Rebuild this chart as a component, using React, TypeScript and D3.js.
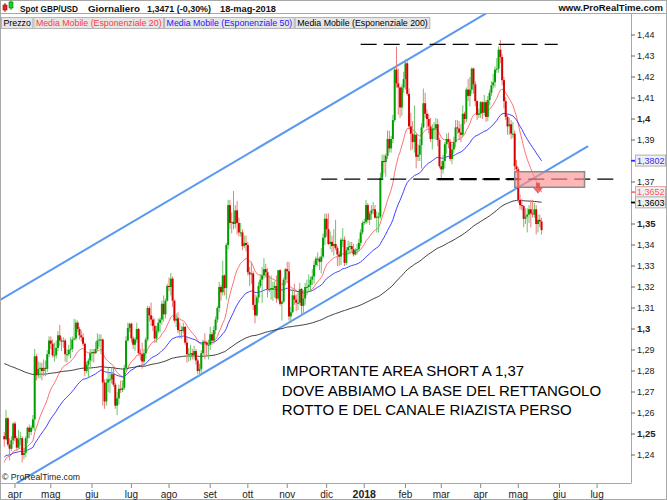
import React, { useEffect, useRef } from "react";
import * as d3 from "d3";

// ---------- DATA (daily GBP/USD candles: [open, high, low, close]) ----------
const FIRST_DATE = "2017-03-24";
const BASE_DATE = "2017-04-03";

const mar2017 = [
  [1.2490, 1.2510, 1.2440, 1.2475], [1.2475, 1.2615, 1.2470, 1.2575], [1.2575, 1.2580, 1.2440, 1.2450],
  [1.2450, 1.2480, 1.2375, 1.2430], [1.2430, 1.2490, 1.2420, 1.2470], [1.2470, 1.2555, 1.2450, 1.2550],
];
const apr2017 = [
  [1.2550, 1.2560, 1.2465, 1.2480], [1.2480, 1.2490, 1.2420, 1.2435], [1.2435, 1.2520, 1.2430, 1.2475],
  [1.2475, 1.2510, 1.2445, 1.2480], [1.2480, 1.2490, 1.2365, 1.2400], [1.2400, 1.2430, 1.2380, 1.2410],
  [1.2410, 1.2490, 1.2390, 1.2480], [1.2480, 1.2535, 1.2455, 1.2530], [1.2530, 1.2545, 1.2480, 1.2510],
  [1.2510, 1.2540, 1.2495, 1.2530], [1.2530, 1.2590, 1.2520, 1.2570], [1.2570, 1.2905, 1.2515, 1.2870],
  [1.2870, 1.2880, 1.2755, 1.2780], [1.2780, 1.2845, 1.2765, 1.2810], [1.2810, 1.2840, 1.2765, 1.2815],
  [1.2815, 1.2840, 1.2755, 1.2800], [1.2800, 1.2855, 1.2775, 1.2815], [1.2815, 1.2850, 1.2775, 1.2810],
  [1.2810, 1.2900, 1.2795, 1.2880], [1.2880, 1.2965, 1.2865, 1.2945],
];
const may2017 = [
  [1.2945, 1.2965, 1.2905, 1.2930], [1.2930, 1.2950, 1.2865, 1.2875], [1.2875, 1.2935, 1.2845, 1.2875],
  [1.2875, 1.2945, 1.2860, 1.2910], [1.2910, 1.2990, 1.2895, 1.2970], [1.2970, 1.3020, 1.2920, 1.2945],
  [1.2945, 1.2960, 1.2895, 1.2940], [1.2940, 1.2960, 1.2910, 1.2945], [1.2945, 1.2955, 1.2845, 1.2880],
  [1.2880, 1.2905, 1.2840, 1.2880], [1.2880, 1.2925, 1.2870, 1.2900], [1.2900, 1.2960, 1.2860, 1.2905],
  [1.2905, 1.2965, 1.2890, 1.2950], [1.2950, 1.3048, 1.2945, 1.2955], [1.2955, 1.3045, 1.2945, 1.3030],
  [1.3030, 1.3040, 1.2985, 1.3000], [1.3000, 1.3010, 1.2950, 1.2970], [1.2970, 1.2995, 1.2940, 1.2960],
  [1.2960, 1.2980, 1.2920, 1.2930], [1.2930, 1.2935, 1.2775, 1.2800], [1.2800, 1.2845, 1.2790, 1.2830],
  [1.2830, 1.2860, 1.2770, 1.2850], [1.2850, 1.2905, 1.2810, 1.2885],
];
const jun2017 = [
  [1.2885, 1.2905, 1.2845, 1.2890], [1.2890, 1.2905, 1.2840, 1.2885], [1.2885, 1.2940, 1.2880, 1.2905],
  [1.2905, 1.2980, 1.2895, 1.2945], [1.2945, 1.2975, 1.2915, 1.2950], [1.2950, 1.2975, 1.2880, 1.2950],
  [1.2950, 1.2955, 1.2635, 1.2745], [1.2745, 1.2760, 1.2620, 1.2655], [1.2655, 1.2765, 1.2635, 1.2745],
  [1.2745, 1.2815, 1.2700, 1.2760], [1.2760, 1.2790, 1.2695, 1.2760], [1.2760, 1.2815, 1.2740, 1.2785],
  [1.2785, 1.2815, 1.2725, 1.2735], [1.2735, 1.2745, 1.2620, 1.2635], [1.2635, 1.2700, 1.2590, 1.2670],
  [1.2670, 1.2735, 1.2640, 1.2715], [1.2715, 1.2755, 1.2695, 1.2710], [1.2710, 1.2755, 1.2700, 1.2720],
  [1.2720, 1.2830, 1.2710, 1.2815], [1.2815, 1.2965, 1.2800, 1.2945], [1.2945, 1.3030, 1.2940, 1.3005],
  [1.3005, 1.3030, 1.2985, 1.3025],
];
const jul2017 = [
  [1.3025, 1.3030, 1.2935, 1.2955], [1.2955, 1.2965, 1.2905, 1.2925], [1.2925, 1.2960, 1.2895, 1.2950],
  [1.2950, 1.3030, 1.2935, 1.3000], [1.3000, 1.3005, 1.2875, 1.2885], [1.2885, 1.2905, 1.2850, 1.2880],
  [1.2880, 1.2935, 1.2811, 1.2845], [1.2845, 1.2905, 1.2825, 1.2885], [1.2885, 1.2960, 1.2860, 1.2950],
  [1.2950, 1.3110, 1.2940, 1.3100], [1.3100, 1.3110, 1.3035, 1.3065], [1.3065, 1.3126, 1.3015, 1.3045],
  [1.3045, 1.3060, 1.2990, 1.3015], [1.3015, 1.3050, 1.2935, 1.2955], [1.2955, 1.3015, 1.2935, 1.2990],
  [1.2990, 1.3050, 1.2980, 1.3030], [1.3030, 1.3055, 1.2985, 1.3045], [1.3045, 1.3135, 1.3020, 1.3120],
  [1.3120, 1.3160, 1.3035, 1.3070], [1.3070, 1.3145, 1.3050, 1.3135], [1.3135, 1.3215, 1.3130, 1.3205],
];
const aug2017 = [
  [1.3205, 1.3245, 1.3180, 1.3200], [1.3200, 1.3267, 1.3160, 1.3240], [1.3240, 1.3250, 1.3105, 1.3135],
  [1.3135, 1.3140, 1.3030, 1.3040], [1.3040, 1.3075, 1.3010, 1.3050], [1.3050, 1.3080, 1.2980, 1.2995],
  [1.2995, 1.3030, 1.2955, 1.2995], [1.2995, 1.3015, 1.2955, 1.2990], [1.2990, 1.3030, 1.2975, 1.3010],
  [1.3010, 1.3015, 1.2925, 1.2935], [1.2935, 1.2960, 1.2840, 1.2880], [1.2880, 1.2910, 1.2845, 1.2880],
  [1.2880, 1.2925, 1.2850, 1.2885], [1.2885, 1.2905, 1.2855, 1.2875], [1.2875, 1.2920, 1.2855, 1.2895],
  [1.2895, 1.2905, 1.2830, 1.2850], [1.2850, 1.2860, 1.2785, 1.2800], [1.2800, 1.2835, 1.2774, 1.2810],
  [1.2810, 1.2900, 1.2785, 1.2885], [1.2885, 1.2950, 1.2875, 1.2940], [1.2940, 1.2980, 1.2855, 1.2935],
  [1.2935, 1.2945, 1.2875, 1.2925], [1.2925, 1.2950, 1.2855, 1.2925],
];
const sep2017 = [
  [1.2925, 1.3010, 1.2900, 1.2975], [1.2975, 1.2985, 1.2925, 1.2945], [1.2945, 1.3015, 1.2930, 1.2995],
  [1.2995, 1.3060, 1.2975, 1.3045], [1.3045, 1.3110, 1.3030, 1.3100], [1.3100, 1.3225, 1.3080, 1.3200],
  [1.3200, 1.3210, 1.3135, 1.3175], [1.3175, 1.3325, 1.3160, 1.3255], [1.3255, 1.3260, 1.3160, 1.3195],
  [1.3195, 1.3410, 1.3140, 1.3400], [1.3400, 1.3615, 1.3380, 1.3590], [1.3590, 1.3615, 1.3475, 1.3505],
  [1.3505, 1.3555, 1.3455, 1.3510], [1.3510, 1.3657, 1.3475, 1.3500], [1.3500, 1.3590, 1.3480, 1.3565],
  [1.3565, 1.3610, 1.3450, 1.3505], [1.3505, 1.3530, 1.3440, 1.3460], [1.3460, 1.3505, 1.3440, 1.3460],
  [1.3460, 1.3475, 1.3375, 1.3395], [1.3395, 1.3445, 1.3385, 1.3410], [1.3410, 1.3445, 1.3370, 1.3400],
];
const oct2017 = [
  [1.3400, 1.3415, 1.3255, 1.3270], [1.3270, 1.3295, 1.3205, 1.3260], [1.3260, 1.3320, 1.3215, 1.3265],
  [1.3265, 1.3275, 1.3090, 1.3115], [1.3115, 1.3165, 1.3027, 1.3065], [1.3065, 1.3160, 1.3060, 1.3150],
  [1.3150, 1.3225, 1.3125, 1.3205], [1.3205, 1.3260, 1.3195, 1.3235], [1.3235, 1.3295, 1.3125, 1.3255],
  [1.3255, 1.3337, 1.3240, 1.3285], [1.3285, 1.3310, 1.3245, 1.3270], [1.3270, 1.3290, 1.3150, 1.3190],
  [1.3190, 1.3255, 1.3175, 1.3190], [1.3190, 1.3255, 1.3140, 1.3195], [1.3195, 1.3225, 1.3135, 1.3195],
  [1.3195, 1.3230, 1.3150, 1.3205], [1.3205, 1.3255, 1.3125, 1.3145], [1.3145, 1.3280, 1.3135, 1.3280],
  [1.3280, 1.3285, 1.3110, 1.3120], [1.3120, 1.3135, 1.3040, 1.3130], [1.3130, 1.3245, 1.3125, 1.3235],
  [1.3235, 1.3290, 1.3210, 1.3285],
];
const nov2017 = [
  [1.3285, 1.3320, 1.3225, 1.3275], [1.3275, 1.3320, 1.3040, 1.3060], [1.3060, 1.3105, 1.3030, 1.3080],
  [1.3080, 1.3190, 1.3075, 1.3160], [1.3160, 1.3215, 1.3115, 1.3140], [1.3140, 1.3165, 1.3085, 1.3125],
  [1.3125, 1.3175, 1.3090, 1.3125], [1.3125, 1.3220, 1.3115, 1.3190], [1.3190, 1.3195, 1.3065, 1.3110],
  [1.3110, 1.3185, 1.3070, 1.3145], [1.3145, 1.3220, 1.3115, 1.3200], [1.3200, 1.3235, 1.3160, 1.3200],
  [1.3200, 1.3260, 1.3175, 1.3210], [1.3210, 1.3250, 1.3180, 1.3235], [1.3235, 1.3285, 1.3210, 1.3250],
  [1.3250, 1.3325, 1.3215, 1.3305], [1.3305, 1.3345, 1.3295, 1.3335], [1.3335, 1.3365, 1.3300, 1.3335],
  [1.3335, 1.3345, 1.3280, 1.3320], [1.3320, 1.3385, 1.3265, 1.3345], [1.3345, 1.3455, 1.3335, 1.3435],
  [1.3435, 1.3550, 1.3400, 1.3525],
];
const dec2017 = [
  [1.3525, 1.3550, 1.3440, 1.3475], [1.3475, 1.3550, 1.3400, 1.3405], [1.3405, 1.3465, 1.3380, 1.3415],
  [1.3415, 1.3445, 1.3365, 1.3395], [1.3395, 1.3475, 1.3350, 1.3405], [1.3405, 1.3520, 1.3375, 1.3385],
  [1.3385, 1.3395, 1.3300, 1.3355], [1.3355, 1.3370, 1.3300, 1.3345], [1.3345, 1.3435, 1.3305, 1.3425],
  [1.3425, 1.3480, 1.3390, 1.3425], [1.3425, 1.3440, 1.3300, 1.3315], [1.3315, 1.3390, 1.3305, 1.3375],
  [1.3375, 1.3420, 1.3355, 1.3390], [1.3390, 1.3415, 1.3355, 1.3395], [1.3395, 1.3415, 1.3365, 1.3380],
  [1.3380, 1.3405, 1.3345, 1.3355], [1.3355, 1.3385, 1.3350, 1.3375], [1.3375, 1.3405, 1.3355, 1.3380],
  [1.3380, 1.3430, 1.3370, 1.3410], [1.3410, 1.3475, 1.3395, 1.3460], [1.3460, 1.3515, 1.3450, 1.3505],
];
const jan2018 = [
  [1.3505, 1.3525, 1.3495, 1.3510], [1.3510, 1.3615, 1.3500, 1.3590], [1.3590, 1.3600, 1.3505, 1.3520],
  [1.3520, 1.3560, 1.3495, 1.3550], [1.3550, 1.3590, 1.3520, 1.3565], [1.3565, 1.3605, 1.3545, 1.3570],
  [1.3570, 1.3590, 1.3525, 1.3530], [1.3530, 1.3560, 1.3460, 1.3535], [1.3535, 1.3555, 1.3460, 1.3535],
  [1.3535, 1.3745, 1.3525, 1.3720], [1.3720, 1.3830, 1.3710, 1.3800], [1.3800, 1.3830, 1.3740, 1.3795],
  [1.3795, 1.3835, 1.3725, 1.3825], [1.3825, 1.3945, 1.3810, 1.3905], [1.3905, 1.3945, 1.3840, 1.3860],
  [1.3860, 1.3920, 1.3840, 1.3905], [1.3905, 1.4020, 1.3885, 1.3995], [1.3995, 1.4245, 1.3985, 1.4235],
  [1.4235, 1.4345, 1.4150, 1.4170], [1.4170, 1.4240, 1.4020, 1.4150], [1.4150, 1.4155, 1.4005, 1.4055],
  [1.4055, 1.4165, 1.4015, 1.4150], [1.4150, 1.4225, 1.4125, 1.4190],
];
const feb2018 = [
  [1.4190, 1.4285, 1.4140, 1.4265], [1.4265, 1.4275, 1.4110, 1.4120], [1.4120, 1.4145, 1.3950, 1.3965],
  [1.3965, 1.4030, 1.3850, 1.3930], [1.3930, 1.3990, 1.3855, 1.3890], [1.3890, 1.4065, 1.3840, 1.3925],
  [1.3925, 1.3930, 1.3765, 1.3820], [1.3820, 1.3880, 1.3800, 1.3830], [1.3830, 1.3905, 1.3800, 1.3875],
  [1.3875, 1.3980, 1.3765, 1.3960], [1.3960, 1.4145, 1.3955, 1.4075], [1.4075, 1.4125, 1.4005, 1.4025],
  [1.4025, 1.4045, 1.3955, 1.4000], [1.4000, 1.4025, 1.3930, 1.3965], [1.3965, 1.4005, 1.3890, 1.3905],
  [1.3905, 1.3975, 1.3855, 1.3955], [1.3955, 1.3985, 1.3905, 1.3955], [1.3955, 1.4005, 1.3900, 1.3975],
  [1.3975, 1.4000, 1.3870, 1.3900], [1.3900, 1.3910, 1.3765, 1.3775],
];
const mar2018 = [
  [1.3775, 1.3800, 1.3712, 1.3760], [1.3760, 1.3830, 1.3740, 1.3800], [1.3800, 1.3890, 1.3765, 1.3880],
  [1.3880, 1.3930, 1.3835, 1.3905], [1.3905, 1.3935, 1.3860, 1.3890], [1.3890, 1.3905, 1.3800, 1.3810],
  [1.3810, 1.3880, 1.3785, 1.3855], [1.3855, 1.3915, 1.3835, 1.3890], [1.3890, 1.3995, 1.3865, 1.3960],
  [1.3960, 1.3995, 1.3930, 1.3955], [1.3955, 1.3990, 1.3900, 1.3935], [1.3935, 1.3975, 1.3890, 1.3925],
  [1.3925, 1.4065, 1.3915, 1.4025], [1.4025, 1.4035, 1.3975, 1.4000], [1.4000, 1.4150, 1.3985, 1.4140],
  [1.4140, 1.4190, 1.4085, 1.4110], [1.4110, 1.4200, 1.4060, 1.4140], [1.4140, 1.4245, 1.4120, 1.4240],
  [1.4240, 1.4245, 1.4120, 1.4165], [1.4165, 1.4180, 1.4060, 1.4085], [1.4085, 1.4090, 1.3995, 1.4020],
  [1.4020, 1.4050, 1.4005, 1.4025],
];
const apr2018 = [
  [1.4025, 1.4085, 1.4005, 1.4080], [1.4080, 1.4085, 1.4000, 1.4030], [1.4030, 1.4115, 1.4015, 1.4080],
  [1.4080, 1.4090, 1.3985, 1.4010], [1.4010, 1.4110, 1.3990, 1.4090], [1.4090, 1.4140, 1.4065, 1.4125],
  [1.4125, 1.4180, 1.4110, 1.4160], [1.4160, 1.4215, 1.4145, 1.4175], [1.4175, 1.4250, 1.4150, 1.4235],
  [1.4235, 1.4290, 1.4220, 1.4240], [1.4240, 1.4345, 1.4220, 1.4330], [1.4330, 1.4377, 1.4265, 1.4295],
  [1.4295, 1.4310, 1.4160, 1.4185], [1.4185, 1.4200, 1.4050, 1.4085], [1.4085, 1.4105, 1.3995, 1.4010],
  [1.4010, 1.4025, 1.3925, 1.3965], [1.3965, 1.4005, 1.3925, 1.3975], [1.3975, 1.3995, 1.3905, 1.3930],
  [1.3930, 1.3985, 1.3910, 1.3930], [1.3930, 1.3945, 1.3755, 1.3775], [1.3775, 1.3805, 1.3745, 1.3760],
];
const may2018 = [
  [1.3760, 1.3770, 1.3600, 1.3615], [1.3615, 1.3640, 1.3570, 1.3590], [1.3590, 1.3620, 1.3565, 1.3585],
  [1.3585, 1.3590, 1.3485, 1.3525], [1.3525, 1.3575, 1.3500, 1.3535], [1.3535, 1.3575, 1.3460, 1.3545],
  [1.3545, 1.3590, 1.3505, 1.3570], [1.3570, 1.3615, 1.3485, 1.3550], [1.3550, 1.3615, 1.3530, 1.3545],
  [1.3545, 1.3600, 1.3530, 1.3570], [1.3570, 1.3590, 1.3450, 1.3500], [1.3500, 1.3545, 1.3460, 1.3520],
  [1.3520, 1.3545, 1.3485, 1.3512], [1.3512, 1.3530, 1.3450, 1.3471],
];
const monthBlocks = [mar2017, apr2017, may2017, jun2017, jul2017, aug2017, sep2017, oct2017,
  nov2017, dec2017, jan2018, feb2018, mar2018, apr2018, may2018];

// EMA settings and starting values (value of each average on the first bar)
const emaPeriods = [20, 50, 200];
const emaStart = [1.2365, 1.2390, 1.2835];
const emaColors = ["#ff5a5a", "#2d2dff", "#2a2a2a"];
const emaLastLabels = ["1,3652", "1,3802", "1,3603"];
const emaLastValues = [1.3652, 1.3802, 1.3603];

// axis tick values
const yTickValues = [1.24, 1.25, 1.26, 1.27, 1.28, 1.29, 1.3, 1.31, 1.32, 1.33, 1.34, 1.35, 1.36,
  1.37, 1.38, 1.39, 1.4, 1.41, 1.42, 1.43, 1.44];
const monthNames = ["2018", "feb", "mar", "apr", "mag", "giu", "lug", "ago", "set", "ott", "nov", "dic"];
const TICK_END_DATE = "2018-07-31";

// drawn studies
const channelLower = [{ date: "2017-04-04", price: 1.2266 }, { date: "2018-06-25", price: 1.3871 }];
const channelUpper = [{ date: "2017-03-22", price: 1.3140 }, { date: "2018-04-17", price: 1.4543 }];
const levelTop = { from: "2017-12-28", to: "2018-05-31", price: 1.4355 };
const levelMid = { from: "2017-11-28", to: "2018-07-18", price: 1.3714 };
const levelMidBold = { from: "2018-02-27", to: "2018-05-01", price: 1.3714 };
const shortZone = { from: "2018-04-27", to: "2018-06-21", top: 1.3749, bottom: 1.3675 };
const arrowMark = { date: "2018-05-16", top: 1.3697, bottom: 1.3644 };

const headerItems = ["Spot GBP/USD", "Giornaliero", "1,3471 (-0,30%)", "18-mag-2018"];
const legendItems = [
  { label: "Prezzo", color: "#000" },
  { label: "Media Mobile (Esponenziale 20)", color: "#ff3b3b" },
  { label: "Media Mobile (Esponenziale 50)", color: "#2020ff" },
  { label: "Media Mobile (Esponenziale 200)", color: "#000" },
];
const noteLines = [
  "IMPORTANTE AREA SHORT A 1,37",
  "DOVE ABBIAMO LA BASE DEL RETTANGOLO",
  "ROTTO E DEL CANALE RIAZISTA PERSO",
];
const noteAnchor = { date: "2017-10-27", price: 1.2774 };

// ---------- helpers ----------
const DAY = 86400000;
function parseDate(s: string) {
  const [y, m, d] = s.split("-").map(Number);
  return new Date(Date.UTC(y, m - 1, d));
}
function isWeekday(d: Date) {
  const w = d.getUTCDay();
  return w !== 0 && w !== 6;
}
function tradingIndex(s: string) {
  let d = parseDate(BASE_DATE);
  const t = parseDate(s);
  let idx = 0;
  if (t >= d) {
    while (d < t) { d = new Date(d.getTime() + DAY); if (isWeekday(d)) idx++; }
  } else {
    while (d > t) { if (isWeekday(d)) idx--; d = new Date(d.getTime() - DAY); }
  }
  return idx;
}

const W = 667, H = 500;
const PL = 0, PR = 631, PT = 13, PB = 483;

export default function App() {
  const ref = useRef<SVGSVGElement | null>(null);

  useEffect(() => {
    const svg = d3.select(ref.current);
    svg.selectAll("*").remove();
    const font = "'Liberation Sans', Arial, sans-serif";

    const candles = monthBlocks.flat().map((r, k) => ({
      i: tradingIndex(FIRST_DATE) + k, o: r[0], h: r[1], l: r[2], c: r[3],
    }));

    const x = d3.scaleLinear().domain([-8.375, 343.94]).range([PL, PR]);
    const y = d3.scaleLinear().domain([1.22667, 1.45048]).range([PB, PT]);

    svg.append("rect").attr("width", W).attr("height", H).attr("fill", "#fff");

    const defs = svg.append("defs");
    defs.append("clipPath").attr("id", "plotclip").append("rect")
      .attr("x", PL).attr("y", PT).attr("width", PR - PL).attr("height", PB - PT);

    const plot = svg.append("g").attr("clip-path", "url(#plotclip)");

    // channel lines
    [channelLower, channelUpper].forEach((ch) => {
      plot.append("line")
        .attr("x1", x(tradingIndex(ch[0].date))).attr("y1", y(ch[0].price))
        .attr("x2", x(tradingIndex(ch[1].date))).attr("y2", y(ch[1].price))
        .attr("stroke", "#5a98f2").attr("stroke-width", 2);
    });

    // EMAs
    emaPeriods.forEach((p, k) => {
      const a = 2 / (p + 1);
      let e = emaStart[k];
      const pts = candles.map((cd, j) => {
        if (j > 0) e = e + a * (cd.c - e);
        return [x(cd.i), y(e)] as [number, number];
      });
      plot.append("path").attr("d", d3.line()(pts)!).attr("fill", "none")
        .attr("stroke", emaColors[k]).attr("stroke-width", 1)
        .attr("stroke-opacity", k === 0 ? 0.85 : 0.9);
    });

    // candles
    const up = "#00a000", dn = "#d80000";
    const g = plot.append("g");
    candles.forEach((cd) => {
      const col = cd.c >= cd.o ? up : dn;
      const wick = cd.c >= cd.o ? "#6cc46c" : "#ec7c7c";
      g.append("line").attr("x1", x(cd.i)).attr("x2", x(cd.i))
        .attr("y1", y(cd.h)).attr("y2", y(cd.l)).attr("stroke", wick).attr("stroke-width", 1);
      const top = y(Math.max(cd.o, cd.c)), bot = y(Math.min(cd.o, cd.c));
      g.append("rect").attr("x", x(cd.i) - 1).attr("width", 2)
        .attr("y", top).attr("height", Math.max(1, bot - top)).attr("fill", col);
    });

    // horizontal levels
    const level = (lv: any, w: number) =>
      plot.append("line").attr("x1", x(tradingIndex(lv.from))).attr("x2", x(tradingIndex(lv.to)))
        .attr("y1", y(lv.price)).attr("y2", y(lv.price))
        .attr("stroke", "#000").attr("stroke-width", w).attr("stroke-dasharray", "16,7");
    level(levelTop, 1.3);
    level(levelMid, 1.3);
    level(levelMidBold, 2.2);

    // short zone rectangle
    const zx1 = x(tradingIndex(shortZone.from)), zx2 = x(tradingIndex(shortZone.to));
    plot.append("rect").attr("x", zx1).attr("width", zx2 - zx1)
      .attr("y", y(shortZone.top)).attr("height", y(shortZone.bottom) - y(shortZone.top))
      .attr("fill", "#ff8f8f").attr("fill-opacity", 0.65)
      .attr("stroke", "#8a8a8a").attr("stroke-width", 1.5);

    // arrow
    const ax = x(tradingIndex(arrowMark.date));
    const at = y(arrowMark.top), ab = y(arrowMark.bottom);
    const mid = at + (ab - at) * 0.45;
    plot.append("path")
      .attr("d", `M${ax - 2},${at} L${ax + 2},${at} L${ax + 2},${mid} L${ax + 5},${mid} L${ax},${ab} L${ax - 5},${mid} L${ax - 2},${mid} Z`)
      .attr("fill", "#e04a4a").attr("fill-opacity", 0.8);

    // note text
    const nx = x(tradingIndex(noteAnchor.date));
    const ny = y(noteAnchor.price);
    noteLines.forEach((t, k) => {
      svg.append("text").attr("x", nx).attr("y", ny + k * 19.3).text(t)
        .attr("font-family", font).attr("font-size", 15).attr("fill", "#000");
    });

    // copyright
    svg.append("text").attr("x", 2).attr("y", 480).text("© ProRealTime.com")
      .attr("font-family", font).attr("font-size", 8.7).attr("fill", "#222");

    // frame lines
    const frame = "#a8a8a8";
    svg.append("line").attr("x1", 0).attr("x2", W).attr("y1", PT + 0.5).attr("y2", PT + 0.5).attr("stroke", frame);
    svg.append("line").attr("x1", PR + 0.5).attr("x2", PR + 0.5).attr("y1", PT).attr("y2", PB).attr("stroke", frame);
    svg.append("line").attr("x1", 0).attr("x2", PR + 0.5).attr("y1", PB + 0.5).attr("y2", PB + 0.5).attr("stroke", frame);
    svg.append("rect").attr("x", 0.5).attr("y", 0.5).attr("width", W - 1).attr("height", H - 1)
      .attr("fill", "none").attr("stroke", frame);

    // y axis
    const hlY = emaLastValues.map((v) => y(v));
    yTickValues.forEach((v) => {
      const yy = y(v);
      const bold = Math.round(v * 100) % 5 === 0;
      svg.append("line").attr("x1", PR).attr("x2", PR + 4).attr("y1", yy).attr("y2", yy).attr("stroke", "#666");
      if (hlY.some((h) => Math.abs(h - yy) < 8)) return;
      svg.append("text").attr("x", PR + 6).attr("y", yy).attr("dy", "0.35em")
        .text(String(+v.toFixed(2)).replace(".", ","))
        .attr("font-family", font).attr("font-size", bold ? 9.5 : 9)
        .attr("font-weight", bold ? "bold" : "normal").attr("fill", "#222");
    });
    emaLastValues.forEach((v, k) => {
      const yy = y(v);
      svg.append("rect").attr("x", PR + 4.5).attr("y", yy - 5.5).attr("width", 30).attr("height", 11)
        .attr("fill", "#efefef").attr("stroke", k === 0 ? "#e8a0a0" : "#b0b0b0");
      svg.append("line").attr("x1", PR).attr("x2", PR + 4).attr("y1", yy).attr("y2", yy)
        .attr("stroke", k === 2 ? "#000" : emaColors[k]).attr("stroke-width", 1.5);
      svg.append("text").attr("x", PR + 6).attr("y", yy).attr("dy", "0.35em").text(emaLastLabels[k])
        .attr("font-family", font).attr("font-size", 9).attr("fill", k === 2 ? "#000" : emaColors[k]);
    });

    // x axis (first trading day of each month)
    let d = parseDate(FIRST_DATE);
    const end = parseDate(TICK_END_DATE);
    let lastMonth = d.getUTCMonth();
    while (d <= end) {
      if (isWeekday(d) && d.getUTCMonth() !== lastMonth) {
        lastMonth = d.getUTCMonth();
        const iso = d.toISOString().slice(0, 10);
        const xx = x(tradingIndex(iso));
        svg.append("line").attr("x1", xx).attr("x2", xx).attr("y1", PB + 1).attr("y2", PB + 5).attr("stroke", "#888");
        svg.append("text").attr("x", xx).attr("y", 497.5).attr("text-anchor", "middle")
          .text(monthNames[lastMonth]).attr("font-family", font)
          .attr("font-size", lastMonth === 0 ? 10.5 : 10)
          .attr("font-weight", lastMonth === 0 ? "bold" : "normal").attr("fill", "#222");
      }
      d = new Date(d.getTime() + DAY);
    }

    // header
    const icon = svg.append("g");
    icon.append("line").attr("x1", 5).attr("x2", 5).attr("y1", 3).attr("y2", 12).attr("stroke", "#d00");
    icon.append("rect").attr("x", 3).attr("y", 5).attr("width", 4).attr("height", 5).attr("fill", "#e22").attr("stroke", "#900").attr("stroke-width", 0.6);
    icon.append("line").attr("x1", 11).attr("x2", 11).attr("y1", 0.5).attr("y2", 10).attr("stroke", "#090");
    icon.append("rect").attr("x", 9).attr("y", 2).attr("width", 4).attr("height", 6).attr("fill", "#2c2").attr("stroke", "#070").attr("stroke-width", 0.6);
    const hx = [20, 88, 147, 220];
    const hw = [58, 52, 64, 56];
    headerItems.forEach((t, k) => {
      svg.append("text").attr("x", hx[k]).attr("y", 11.5).text(t)
        .attr("textLength", hw[k]).attr("lengthAdjust", "spacingAndGlyphs")
        .attr("font-family", font).attr("font-size", 9.5).attr("font-weight", "bold").attr("fill", "#111");
    });
    svg.append("text").attr("x", W - 4).attr("y", 11).attr("text-anchor", "end").text("www.ProRealTime.com")
      .attr("font-family", font).attr("font-size", 9.5).attr("font-weight", "bold").attr("fill", "#111");

    // legend row
    let lx = 1.5;
    legendItems.forEach((it) => {
      const gg = svg.append("g");
      const r = gg.append("rect").attr("x", lx).attr("y", 17.5).attr("height", 11)
        .attr("fill", "#e6e6e6").attr("stroke", "#b4b4b4");
      const t = gg.append("text").attr("x", lx + 2).attr("y", 26).text(it.label)
        .attr("font-family", font).attr("font-size", 8.8).attr("fill", it.color);
      const len = (t.node() as SVGTextElement).getComputedTextLength();
      r.attr("width", len + 4);
      lx += len + 5;
    });
  }, []);

  return (
    <div style={{ position: "absolute", left: 0, top: 0 }}>
      <svg ref={ref} width={W} height={H} style={{ display: "block" }} />
    </div>
  );
}
